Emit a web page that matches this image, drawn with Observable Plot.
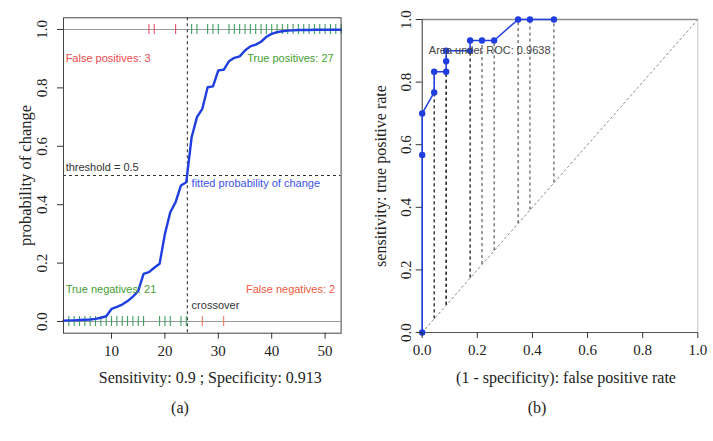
<!DOCTYPE html>
<html><head><meta charset="utf-8">
<script src="https://cdn.jsdelivr.net/npm/d3@7"></script>
<script src="https://cdn.jsdelivr.net/npm/@observablehq/plot@0.6"></script>
<style>
body{margin:0;background:#fff;}
#wrap{position:relative;width:713px;height:441px;overflow:hidden;background:#fff;}
#left{position:absolute;left:0;top:0;}
#right{position:absolute;left:356px;top:0;}
.cap{position:absolute;top:399px;width:60px;text-align:center;font-family:"Liberation Serif",serif;font-size:16px;color:#222;}
</style></head><body>
<div id="wrap"><div id="left"></div><div id="right"></div>
<div class="cap" style="left:150px">(a)</div><div class="cap" style="left:507px">(b)</div></div>
<script>
// ---------- data: panel (a) ----------
const caseIndex = d3.range(1, 54);
const fittedProb = [0.003,0.004,0.004,0.005,0.006,0.007,0.009,0.013,0.018,0.043,
  0.050,0.058,0.070,0.085,0.105,0.163,0.169,0.184,0.198,0.300,
  0.374,0.409,0.466,0.477,0.631,0.700,0.728,0.802,0.805,0.860,
  0.862,0.891,0.903,0.908,0.928,0.942,0.948,0.958,0.975,0.985,
  0.991,0.994,0.996,0.997,0.998,0.998,0.998,0.999,0.999,0.999,
  0.999,0.999,0.999];
const topFalse = [17,18,22];
const topTrue = [25,26,28,29,30,32,33,34,35,36,37,38,39,40,41,42,43,44,45,46,47,48,49,50,51,52,53];
const bottomTrue = [1,2,3,4,5,6,7,8,9,10,11,12,13,14,15,16,19,20,21,23,24];
const bottomFalse = [27,31];
const crossover = 24.2;
const threshold = 0.5;
const yTicksA = [0,0.2,0.4,0.6,0.8,1.0];
const xTicksA = [10,20,30,40,50];
const xTitleA = "Sensitivity: 0.9 ; Specificity: 0.913";
const yTitleA = "probability of change";

// ---------- data: panel (b) ----------
const rocFpr = [0,0,0,0.0435,0.0435,0.087,0.087,0.087,0.174,0.174,0.217,0.261,0.348,0.391,0.478];
const rocTpr = [0,0.567,0.700,0.767,0.833,0.833,0.867,0.900,0.900,0.933,0.933,0.933,1,1,1];
const xTicksB = [0,0.2,0.4,0.6,0.8,1.0];
const yTicksB = [0,0.2,0.4,0.6,0.8,1.0];
const xTitleB = "(1 - specificity): false positive rate";
const yTitleB = "sensitivity: true positive rate";
const aucLabel = "Area under ROC: 0.9638";

const curve = caseIndex.map((i, k) => ({i, p: fittedProb[k]}));
const roc = rocFpr.map((f, k) => ({fpr: f, tpr: rocTpr[k]}));

const SERIF = "Liberation Serif, Times New Roman, serif";
const SANS = "Liberation Sans, Arial, sans-serif";
const f1 = d3.format(".1f");
const BLUE = "#1f3ee0", GREEN_TXT = "#45a032", GREEN_RUG = "#3f9f62", RED_TOP = "#e4506a", RED_BOT = "#f07a62";

const left = Plot.plot({
  width: 356, height: 370,
  marginLeft: 63, marginRight: 15.4, marginTop: 17.3, marginBottom: 37.3,
  x: {domain: [1, 53], label: null},
  y: {domain: [-0.04, 1.04], label: null},
  style: {fontFamily: SANS, fontSize: "11px", background: "white", overflow: "visible"},
  marks: [
    Plot.ruleY([0, 1], {stroke: "#9a9a9a", strokeWidth: 1.2}),
    Plot.ruleY([threshold], {stroke: "#333", strokeDasharray: "3,3", strokeWidth: 1.1}),
    Plot.ruleX([crossover], {stroke: "#333", strokeDasharray: "3,3", strokeWidth: 1.1}),
    Plot.ruleX(topFalse, {x: d => d, y1: 0.983, y2: 1.017, stroke: RED_TOP, strokeWidth: 1.1}),
    Plot.ruleX(topTrue, {x: d => d, y1: 0.983, y2: 1.017, stroke: GREEN_RUG, strokeWidth: 1.1}),
    Plot.ruleX(bottomTrue, {x: d => d, y1: -0.017, y2: 0.017, stroke: GREEN_RUG, strokeWidth: 1.1}),
    Plot.ruleX(bottomFalse, {x: d => d, y1: -0.017, y2: 0.017, stroke: RED_BOT, strokeWidth: 1.1}),
    Plot.line(curve, {x: "i", y: "p", stroke: BLUE, strokeWidth: 2.4}),
    Plot.frame({stroke: "#444"}),
    Plot.text(["False positives: " + topFalse.length], {x: 1.4, y: 0.9, textAnchor: "start", fill: "#ec4a4e"}),
    Plot.text(["True positives: " + topTrue.length], {x: 51.6, y: 0.9, textAnchor: "end", fill: GREEN_TXT}),
    Plot.text(["threshold = 0.5"], {x: 1.4, y: 0.527, textAnchor: "start", fill: "#333"}),
    Plot.text(["fitted probability of change"], {x: 25.0, y: 0.474, textAnchor: "start", fill: "#3a52e6"}),
    Plot.text(["True negatives: " + bottomTrue.length], {x: 1.4, y: 0.109, textAnchor: "start", fill: GREEN_TXT}),
    Plot.text(["False negatives: " + bottomFalse.length], {x: 51.9, y: 0.109, textAnchor: "end", fill: "#f05a42"}),
    Plot.text(["crossover"], {x: 25.0, y: 0.054, textAnchor: "start", fill: "#333"}),
    Plot.axisX({ticks: xTicksA, tickSize: 6, tickPadding: 6, tickFormat: d => d, fontFamily: SERIF, fontSize: 15, stroke: "#333", fill: "#222", label: null}),
    Plot.axisY({ticks: yTicksA, tickSize: 6, tickFormat: () => "", stroke: "#333", label: null}),
    Plot.text(yTicksA, {y: d => d, text: d => f1(d), frameAnchor: "left", textAnchor: "middle", lineAnchor: "middle", dx: -21, rotate: -90, fontFamily: SERIF, fontSize: 15, fill: "#222"}),
    Plot.text([xTitleA], {frameAnchor: "bottom", textAnchor: "middle", lineAnchor: "middle", dy: 45, dx: 8, fontFamily: SERIF, fontSize: 16, fill: "#222"}),
    Plot.text([yTitleA], {frameAnchor: "left", textAnchor: "middle", lineAnchor: "middle", dx: -38, rotate: -90, fontFamily: SERIF, fontSize: 16.5, fill: "#222"})
  ]
});
document.getElementById("left").appendChild(left);

const right = Plot.plot({
  width: 357, height: 370,
  marginLeft: 65.7, marginRight: 15.7, marginTop: 19, marginBottom: 38,
  x: {domain: [0, 1], label: null},
  y: {domain: [0, 1], label: null},
  style: {fontFamily: SANS, fontSize: "11px", background: "white", overflow: "visible"},
  marks: [
    Plot.ruleY([1], {stroke: "#8a8a8a", strokeWidth: 1.6}),
    Plot.ruleX([1], {stroke: "#c8c8c8", strokeWidth: 1}),
    Plot.line([[0, 0], [1, 1]], {stroke: "#8c8c8c", strokeDasharray: "2,3", strokeWidth: 1}),
    Plot.ruleX(roc.filter(d => d.fpr > 0), {x: "fpr", y1: "fpr", y2: "tpr", stroke: "#222", strokeDasharray: "3,3", strokeWidth: 0.9}),
    Plot.ruleX([0], {stroke: "#333"}),
    Plot.ruleY([0], {stroke: "#555"}),
    Plot.line(roc, {x: "fpr", y: "tpr", stroke: BLUE, strokeWidth: 1.5}),
    Plot.dot(roc, {x: "fpr", y: "tpr", r: 3.2, fill: BLUE, stroke: "none"}),
    Plot.text([aucLabel], {x: 0.024, y: 0.901, textAnchor: "start", fill: "#444"}),
    Plot.axisX({ticks: xTicksB, tickSize: 6, tickPadding: 6, tickFormat: f1, fontFamily: SERIF, fontSize: 15, stroke: "#333", fill: "#222", label: null}),
    Plot.axisY({ticks: yTicksB, tickSize: 6, tickFormat: () => "", stroke: "#333", label: null}),
    Plot.text(yTicksB, {y: d => d, text: d => f1(d), frameAnchor: "left", textAnchor: "middle", lineAnchor: "middle", dx: -16.5, rotate: -90, fontFamily: SERIF, fontSize: 15, fill: "#222"}),
    Plot.text([xTitleB], {frameAnchor: "bottom", textAnchor: "middle", lineAnchor: "middle", dy: 45, dx: 6, fontFamily: SERIF, fontSize: 16, fill: "#222"}),
    Plot.text([yTitleB], {frameAnchor: "left", textAnchor: "middle", lineAnchor: "middle", dx: -41, rotate: -90, fontFamily: SERIF, fontSize: 16, fill: "#222"})
  ]
});
document.getElementById("right").appendChild(right);
</script>
</body></html>
